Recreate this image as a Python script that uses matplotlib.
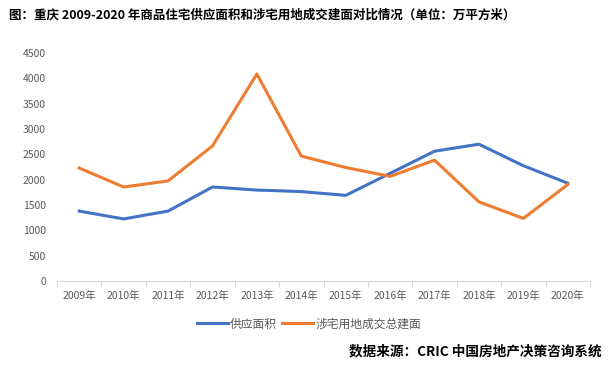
import matplotlib
matplotlib.use("Agg")
import matplotlib.pyplot as plt
import numpy as np

plt.rcParams["font.family"] = ["Noto Sans CJK SC", "DejaVu Sans"]

years = ["2009年", "2010年", "2011年", "2012年", "2013年", "2014年",
         "2015年", "2016年", "2017年", "2018年", "2019年", "2020年"]
supply = [1380, 1225, 1380, 1855, 1795, 1765, 1690, 2125, 2562, 2700, 2275, 1930]
land = [2230, 1855, 1975, 2665, 4085, 2465, 2240, 2065, 2385, 1562, 1235, 1905]

BLUE = "#4472C4"
ORANGE = "#ED7D31"
GRAY = "#595959"

fig = plt.figure(figsize=(6.14, 3.67), dpi=100)
ax = fig.add_axes([57 / 614, 1 - 281 / 367, (590 - 57) / 614, (281 - 53) / 367])

x = np.arange(len(years))
ax.plot(x, supply, color=BLUE, lw=2.2, label="供应面积", solid_joinstyle="round")
ax.plot(x, land, color=ORANGE, lw=2.2, label="涉宅用地成交总建面", solid_joinstyle="round")

ax.set_xlim(-0.5, len(years) - 0.5)
ax.set_ylim(0, 4500)
ax.set_yticks(np.arange(0, 4501, 500))
ax.set_xticks(x)
ax.set_xticklabels(years)
ax.set_xticks(np.arange(-0.5, len(years), 1), minor=True)
ax.tick_params(axis="x", which="major", length=0, labelsize=7.5, colors=GRAY, pad=7)
ax.tick_params(axis="x", which="minor", length=4, color="#D9D9D9", width=0.8)
ax.tick_params(axis="y", length=0, labelsize=7.5, colors=GRAY, pad=8)

for side in ["top", "right", "left"]:
    ax.spines[side].set_visible(False)
ax.spines["bottom"].set_color("#D9D9D9")
ax.spines["bottom"].set_linewidth(0.8)

fig.legend(loc="center", bbox_to_anchor=(309 / 614, 1 - 324 / 367), ncol=2,
           frameon=False, fontsize=8.5, handlelength=2.6, handletextpad=0.2,
           columnspacing=0.4, labelcolor=GRAY)

fig.text(9 / 614, 1 - 15 / 367,
         "图：重庆 2009-2020 年商品住宅供应面积和涉宅用地成交建面对比情况（单位：万平方米）",
         fontsize=9, fontweight="bold", va="center", ha="left")
fig.text(602 / 614, 1 - 351 / 367, "数据来源：CRIC 中国房地产决策咨询系统",
         fontsize=9.8, fontweight="bold", va="center", ha="right")

fig.savefig("out.png", dpi=100)
